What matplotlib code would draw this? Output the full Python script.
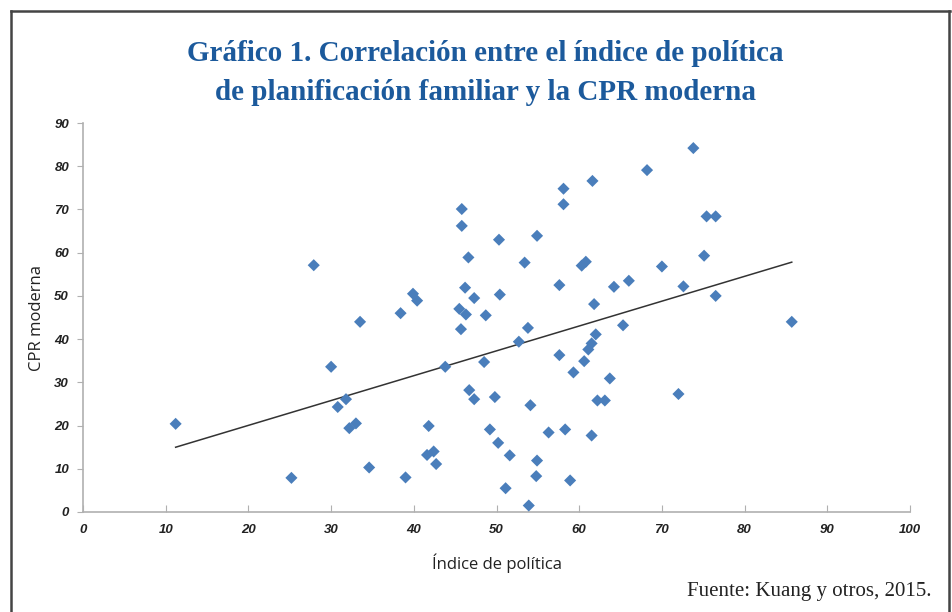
import numpy as np
import matplotlib
matplotlib.use("Agg")
import matplotlib.pyplot as plt
from matplotlib.lines import Line2D

# Índice de política (x) vs CPR moderna (y)
indice = [11.2, 25.2, 27.9, 30.0, 30.8, 31.8, 32.2, 33.0, 33.5, 34.6,
          38.4, 39.0, 39.9, 40.4, 41.8, 41.6, 42.4, 42.7, 43.8, 45.8,
          45.8, 46.6, 46.2, 45.5, 46.3, 47.3, 45.7, 48.7, 48.5, 46.7,
          47.3, 50.3, 50.4, 49.2, 49.8, 50.2, 51.1, 73.8, 68.2, 61.6,
          58.1, 58.1, 75.4, 76.5, 54.9, 53.4, 60.3, 60.8, 70.0, 75.1,
          57.6, 64.2, 66.0, 72.6, 76.5, 61.8, 85.7, 53.8, 65.3, 52.7,
          62.0, 61.5, 61.1, 57.6, 60.6, 59.3, 63.7, 72.0, 54.1, 62.2,
          63.1, 58.3, 56.3, 61.5, 51.6, 54.9, 54.8, 58.9, 53.9]
cpr = [20.4, 7.9, 57.1, 33.6, 24.3, 26.1, 19.4, 20.5, 44.0, 10.3,
       46.0, 8.0, 50.5, 48.9, 19.9, 13.2, 14.0, 11.1, 33.6, 70.1,
       66.2, 58.9, 51.9, 47.0, 45.7, 49.5, 42.3, 45.5, 34.7, 28.2,
       26.1, 63.0, 50.3, 19.1, 26.6, 16.0, 5.5, 84.2, 79.1, 76.6,
       74.8, 71.2, 68.4, 68.4, 63.9, 57.7, 57.0, 57.9, 56.8, 59.3,
       52.5, 52.1, 53.5, 52.2, 50.0, 48.1, 44.0, 42.6, 43.2, 39.4,
       41.1, 39.0, 37.6, 36.3, 34.9, 32.3, 30.9, 27.3, 24.7, 25.8,
       25.8, 19.1, 18.4, 17.7, 13.1, 11.9, 8.3, 7.3, 1.5]

x_ticks = list(range(0, 101, 10))
y_ticks = list(range(0, 91, 10))

title = "Gráfico 1. Correlación entre el índice de política\nde planificación familiar y la CPR moderna"
x_label = "Índice de política"
y_label = "CPR moderna"
source = "Fuente: Kuang y otros, 2015."

fig = plt.figure(figsize=(9.53, 6.12), dpi=100)
ax = fig.add_axes([0.0871, 0.1634, 0.8678, 0.6356])

ax.scatter(indice, cpr, marker="D", s=38, color="#4a7ebb", edgecolors="none", zorder=3)

# linear trend line over the data range
slope, intercept = np.polyfit(indice, cpr, 1)
xs = np.array([min(indice), max(indice)])
ax.plot(xs, slope * xs + intercept, color="#333333", lw=1.1, zorder=2)

ax.set_xlim(0, 100)
ax.set_ylim(0, 90)
ax.set_xticks(x_ticks)
ax.set_yticks(y_ticks)
for s in ["top", "right"]:
    ax.spines[s].set_visible(False)
for s in ["left", "bottom"]:
    ax.spines[s].set_color("#b0b0b0")
    ax.spines[s].set_linewidth(1.2)
ax.tick_params(axis="x", direction="in", length=5, color="#b0b0b0", pad=9)
ax.tick_params(axis="y", direction="out", length=4, color="#b0b0b0", pad=6)
for lab in ax.get_xticklabels() + ax.get_yticklabels():
    lab.set_fontfamily("Liberation Sans")
    lab.set_fontweight("bold")
    lab.set_fontstyle("italic")
    lab.set_fontsize(9.5)
    lab.set_color("#222222")

ax.set_xlabel(x_label, fontfamily="Open Sans", fontsize=12, color="#222222", labelpad=12)
ax.set_ylabel(y_label, fontfamily="Open Sans", fontsize=12, color="#222222", labelpad=7)

fig.text(0.509, 0.881, title, ha="center", va="center", fontfamily="Liberation Serif",
         fontweight="bold", fontsize=21, color="#1c5a9c", linespacing=1.55)
fig.text(0.977, 0.033, source, ha="right", va="center", fontfamily="Liberation Serif",
         fontsize=15, color="#222222")

# page frame around the figure
frame = dict(color="#444444", lw=1.8, transform=fig.transFigure)
fig.add_artist(Line2D([11 / 953, 950 / 953], [1 - 11 / 612, 1 - 11 / 612], **frame))
fig.add_artist(Line2D([11 / 953, 11 / 953], [0, 1 - 11 / 612], **frame))
fig.add_artist(Line2D([949 / 953, 949 / 953], [0, 1 - 11 / 612], **frame))

fig.savefig("out.png", dpi=100)
